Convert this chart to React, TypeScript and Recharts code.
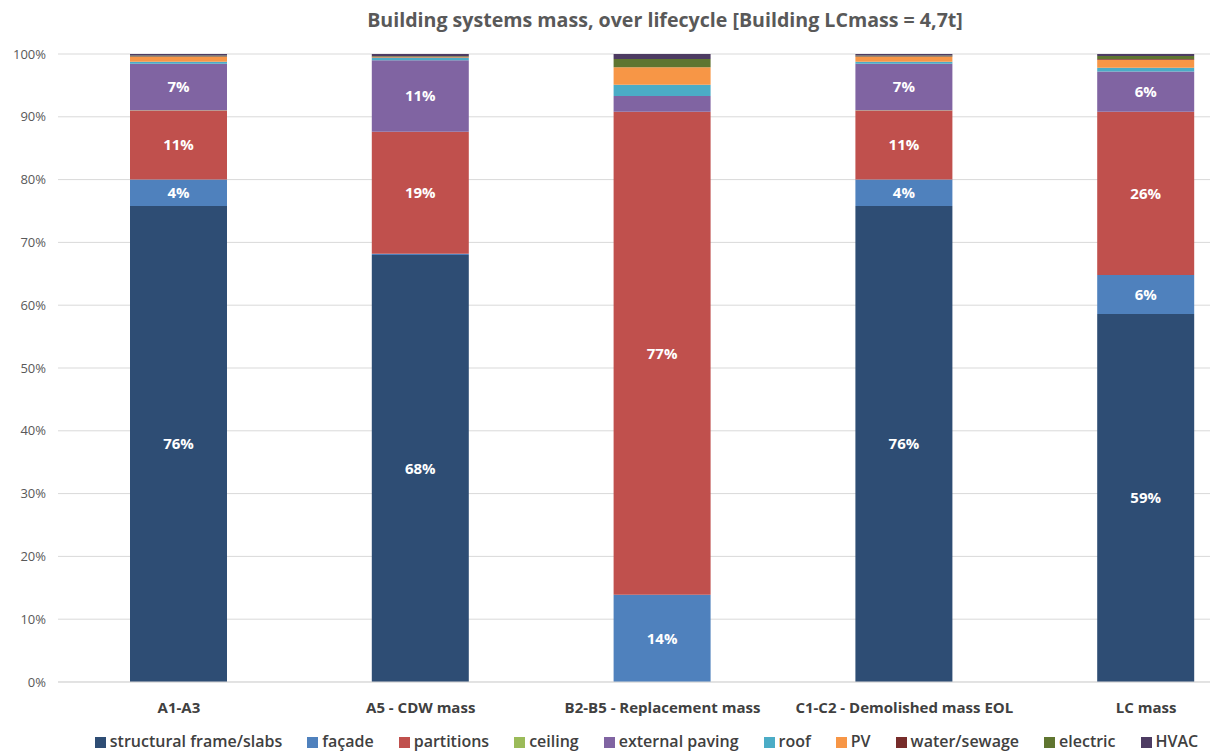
import { Bar, BarChart, CartesianGrid, LabelList, Legend, XAxis, YAxis } from "recharts";

const phases = ["A1-A3", "A5 - CDW mass", "B2-B5 - Replacement mass", "C1-C2 - Demolished mass EOL", "LC mass"];

// share of building mass per system, %
const structural = [75.8, 68.0, 0, 75.8, 58.6];
const facade = [4.2, 0.2, 13.9, 4.2, 6.2];
const partitions = [11.0, 19.4, 76.9, 11.0, 26.0];
const ceiling = [0.05, 0, 0, 0.05, 0];
const paving = [7.4, 11.4, 2.5, 7.4, 6.4];
const roof = [0.3, 0.4, 1.8, 0.3, 0.6];
const pv = [0.8, 0.1, 2.8, 0.8, 1.3];
const water = [0.1, 0.1, 0.0, 0.1, 0.1];
const electric = [0.1, 0.1, 1.3, 0.1, 0.5];
const hvac = [0.25, 0.3, 0.8, 0.25, 0.3];

const yTicks = [0, 10, 20, 30, 40, 50, 60, 70, 80, 90, 100];

const systems = [
  { key: "structural", name: "structural frame/slabs", color: "#2E4D74", values: structural },
  { key: "facade", name: "façade", color: "#4F81BD", values: facade },
  { key: "partitions", name: "partitions", color: "#C0504D", values: partitions },
  { key: "ceiling", name: "ceiling", color: "#9BBB59", values: ceiling },
  { key: "paving", name: "external paving", color: "#8064A2", values: paving },
  { key: "roof", name: "roof", color: "#4BACC6", values: roof },
  { key: "pv", name: "PV", color: "#F79646", values: pv },
  { key: "water", name: "water/sewage", color: "#772C2A", values: water },
  { key: "electric", name: "electric", color: "#5F7530", values: electric },
  { key: "hvac", name: "HVAC", color: "#4D3B62", values: hvac },
];

const data = phases.map((phase, i) => {
  const row: Record<string, string | number> = { phase };
  systems.forEach((s) => {
    row[s.key] = s.values[i];
  });
  return row;
});

const font = "'Open Sans', 'DejaVu Sans', sans-serif";

const legendOrder = (item: any) => systems.findIndex((s) => s.key === item.dataKey);

export default function App() {
  return (
    <div style={{ position: "absolute", left: 0, top: 0, width: 1210, height: 754, overflow: "hidden", background: "#fff", fontFamily: font }}>
      <div
        style={{
          position: "absolute",
          left: 0,
          top: 6,
          width: 1330,
          textAlign: "center",
          fontSize: 19.6,
          fontWeight: 700,
          color: "#595959",
        }}
      >
        Building systems mass, over lifecycle [Building LCmass = 4,7t]
      </div>
      <BarChart
        width={1330}
        height={754}
        data={data}
        margin={{ top: 54, right: 63, left: 0, bottom: 0 }}
        style={{ position: "absolute", left: 0, top: 0 }}
      >
        <CartesianGrid vertical={false} stroke="#d9d9d9" />
        <XAxis
          dataKey="phase"
          height={46}
          axisLine={{ stroke: "#d9d9d9" }}
          tickLine={false}
          tickMargin={14}
          tick={{ fill: "#404040", fontSize: 15, fontWeight: 700, fontFamily: font }}
        />
        <YAxis
          width={58}
          domain={[0, 100]}
          ticks={yTicks}
          allowDataOverflow
          axisLine={false}
          tickLine={false}
          tickMargin={6}
          tickFormatter={(v) => `${v}%`}
          tick={{ fill: "#595959", fontSize: 13, fontFamily: font }}
        />
        <Legend
          verticalAlign="bottom"
          iconType="square"
          iconSize={11}
          itemSorter={legendOrder}
          wrapperStyle={{ left: 0, width: 1318, fontSize: 16, fontFamily: font, lineHeight: "26px" }}
          formatter={(value) => <span style={{ color: "#404040", fontWeight: 600, marginRight: 15 }}>{value}</span>}
        />
        {systems.map((s) => (
          <Bar key={s.key} dataKey={s.key} name={s.name} stackId="a" fill={s.color} barSize={97} isAnimationActive={false}>
            <LabelList
              dataKey={s.key}
              position="center"
              fill="#ffffff"
              fontSize={15}
              fontWeight={700}
              fontFamily={font}
              formatter={(v: any) => (Number(v) >= 3 ? `${Math.round(Number(v))}%` : "")}
            />
          </Bar>
        ))}
      </BarChart>
    </div>
  );
}
